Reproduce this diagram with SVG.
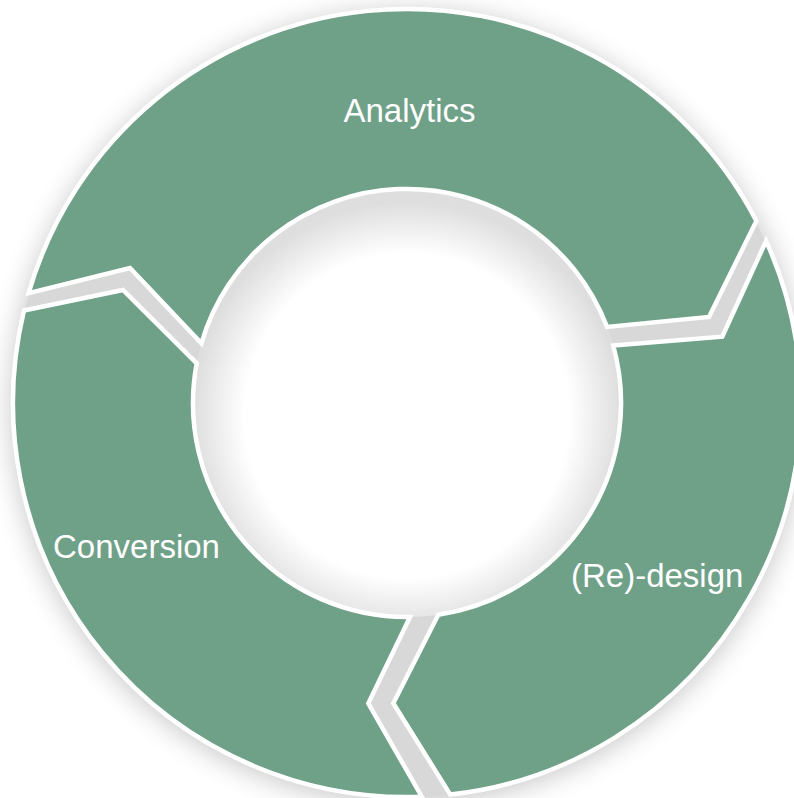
<svg xmlns="http://www.w3.org/2000/svg" width="794" height="798" viewBox="0 0 794 798">
  <defs>
    <filter id="shadow" x="-20%" y="-20%" width="140%" height="140%">
      <feGaussianBlur stdDeviation="14"/>
    </filter>
    <radialGradient id="innerGrad" cx="50%" cy="53%" r="50%">
      <stop offset="0%" stop-color="#ffffff"/>
      <stop offset="76%" stop-color="#ffffff"/>
      <stop offset="100%" stop-color="#dedede"/>
    </radialGradient>
    <style>
      .seg { fill: #6fa088; stroke: #ffffff; stroke-width: 4.5; stroke-linejoin: miter; }
      .lbl { fill: #ffffff; font-family: "Liberation Sans", Arial, Helvetica, sans-serif; font-size: 33px; }
    </style>
  </defs>

  <rect x="0" y="0" width="794" height="798" fill="#ffffff"/>

  <g id="backdrop">
    <circle cx="407" cy="407" r="396" fill="#000000" opacity="0.22" filter="url(#shadow)"/>
    <circle cx="407" cy="403" r="393" fill="#d8d8d8"/>
    <circle cx="407" cy="403" r="214" fill="url(#innerGrad)"/>
  </g>

  <g id="node-analytics">
    <path class="seg" d="M 28.6 293.1 A 394 394 0 0 1 756.4 220.9 L 709 317 L 607 326.9 A 214 214 0 0 0 201.4 343.4 L 130 268 Z"/>
    <text class="lbl" x="409.5" y="122" text-anchor="middle">Analytics</text>
  </g>

  <g id="node-redesign">
    <path class="seg" d="M 766.1 241 A 394 394 0 0 1 450.3 794.6 L 393.3 703.3 L 438.3 614.7 A 214 214 0 0 0 613.2 345.5 L 722.3 336.7 Z"/>
    <text class="lbl" x="571" y="587">(Re)-design</text>
  </g>

  <g id="node-conversion">
    <path class="seg" d="M 421.8 796.7 A 394 394 0 0 1 24 310.5 L 123 290 L 196.7 363.3 A 214 214 0 0 0 410 617 L 368.3 703.3 Z"/>
    <text class="lbl" x="53" y="558">Conversion</text>
  </g>
</svg>
